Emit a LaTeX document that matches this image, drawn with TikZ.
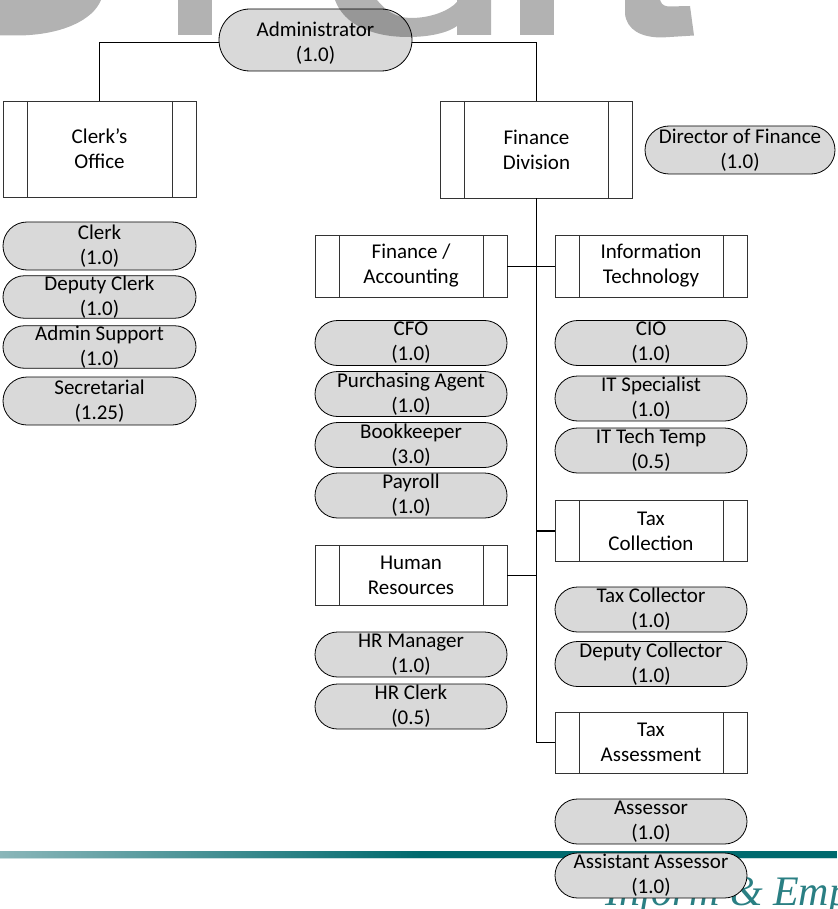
\documentclass[tikz,border=0pt]{standalone}
\usepackage{fontspec}
\setmainfont{Carlito}
\newfontfamily\mottofont{Liberation Serif}
\usetikzlibrary{shapes.misc}
\definecolor{pillgrey}{HTML}{D9D9D9}
\definecolor{tealdark}{HTML}{006A6E}
\definecolor{teallight}{HTML}{8AB6B9}
\definecolor{tealshadow}{HTML}{C8DEDF}
\definecolor{mottoteal}{HTML}{2A7F83}

\begin{document}
\begin{tikzpicture}[x=1pt,y=-1pt,
  every node/.style={font=\fontsize{21}{25}\selectfont, align=center, inner sep=0pt},
  unitbox/.style={draw=black!80, line width=0.9pt, fill=white,
    minimum width=192pt, minimum height=#1,
    path picture={\draw[black!80, line width=0.9pt]
      ([xshift=24pt]path picture bounding box.north west) -- ([xshift=24pt]path picture bounding box.south west)
      ([xshift=-24pt]path picture bounding box.north east) -- ([xshift=-24pt]path picture bounding box.south east);}},
  unitbox/.default=62pt,
  pill/.style={shape=rounded rectangle, draw=black, line width=0.8pt, fill=pillgrey,
    minimum width=192pt, minimum height=#1},
  pill/.default=45pt,
  link/.style={draw=black, line width=0.9pt},
  trunk/.style={draw=black, line width=1.8pt},
  ghost/.style={fill=black, fill opacity=0.3, even odd rule}
]
\useasboundingbox (0,0) rectangle (837,909);
\begin{scope}
\clip (0,0) rectangle (837,909);

% footer band and motto (sit behind the chart)
\shade[left color=teallight, right color=tealdark] (0,851) rectangle (420,857.5);
\fill[tealdark] (420,851) rectangle (837,857.5);
\fill[tealshadow] (0,857.5) rectangle (837,859);
\node[anchor=base west, font=\mottofont\itshape\fontsize{42}{50}\selectfont, text=mottoteal]
  (motto) at (605,905) {Inform \& Empower};

% top level
\node[pill=62pt, minimum width=193pt] (admin) at (315.5,40) {\rule{0pt}{21pt}Administrator\\(1.0)};
\node[unitbox=96pt, minimum width=193pt] (clerks) at (99.5,149) {Clerk’s\\Office};
\node[unitbox=97pt] (findiv) at (536.5,149.5) {Finance\\Division};
\node[pill=48pt, minimum width=190pt] (dirfin) at (740,150) {Director of Finance\\(1.0)};

% clerk's office staff
\node[pill=48pt, minimum width=193pt] (clerk) at (99.5,246) {Clerk\\(1.0)};
\node[pill=42pt, minimum width=193pt] (depclerk) at (99.5,297) {Deputy Clerk\\(1.0)};
\node[pill=42pt, minimum width=193pt] (adminsup) at (99.5,347) {Admin Support\\(1.0)};
\node[pill=48pt, minimum width=193pt] (secret) at (99.5,401) {Secretarial\\(1.25)};

% finance units
\node[unitbox] (finacc) at (411,266) {Finance /\\Accounting};
\node[unitbox] (infotech) at (651,266) {Information\\Technology};
\node[unitbox=60pt] (hr) at (411,575) {Human\\Resources};
\node[unitbox=61pt] (taxcoll) at (651,531) {Tax\\Collection};
\node[unitbox=61pt] (taxass) at (651,742.5) {Tax\\Assessment};

% finance / accounting staff
\node[pill] (cfo) at (411,343) {CFO\\(1.0)};
\node[pill] (purch) at (411,394) {Purchasing Agent\\(1.0)};
\node[pill] (bookk) at (411,445) {Bookkeeper\\(3.0)};
\node[pill] (payroll) at (411,495.5) {Payroll\\(1.0)};

% human resources staff
\node[pill] (hrman) at (411,654.5) {HR Manager\\(1.0)};
\node[pill] (hrclerk) at (411,706.5) {HR Clerk\\(0.5)};

% information technology staff
\node[pill] (cio) at (651,343) {CIO\\(1.0)};
\node[pill] (itspec) at (651,398.5) {IT Specialist\\(1.0)};
\node[pill] (ittemp) at (651,450.5) {IT Tech Temp\\(0.5)};

% tax collection staff
\node[pill] (taxcoll1) at (651,609.5) {Tax Collector\\(1.0)};
\node[pill] (depcoll) at (651,664) {Deputy Collector\\(1.0)};

% tax assessment staff
\node[pill] (assessor) at (651,821.5) {Assessor\\(1.0)};
\node[pill] (asstass) at (651,875.5) {Assistant Assessor\\(1.0)};

% connectors
\draw[link] ([yshift=-2pt]admin.west) -| (clerks.north);
\draw[link] ([yshift=-2pt]admin.east) -| (findiv.north);
\draw[trunk] (findiv.south) |- (taxcoll.west);
\draw[link] (findiv.south) |- (finacc.east);
\draw[link] (findiv.south) |- (infotech.west);
\draw[link] (findiv.south) |- (hr.east);
\draw[link] (findiv.south) |- (taxass.west);

% translucent lettering feet running off the top edge
\fill[ghost] (-2,-2) -- (101,-2) -- (101,0) .. controls (93,20) and (62,35) .. (18,35.5) -- (-2,35.5) -- cycle;
\fill[ghost] (178,-2) rectangle (212,35);
\fill[ghost] (335,-2) -- (335,0) .. controls (344,25) and (373,37) .. (408,37)
  .. controls (432,37) and (449,32) .. (457,26) -- (457,35) -- (491,35) -- (491,-2) -- cycle
  (377,-2) -- (377,0) .. controls (385,10) and (396,18) .. (411,18)
  .. controls (432,18) and (450,10) .. (457,2) -- (457,-2) -- cycle;
\fill[ghost] (520,-2) rectangle (554,35);
\fill[ghost] (625,-2) -- (625,14) .. controls (627,30) and (641,37.5) .. (662,37.5)
  -- (694,35.5) -- (690,6) -- (668,6.5) .. controls (663,6) and (660,3) .. (660,-2) -- cycle;
\end{scope}
\end{tikzpicture}
\end{document}
